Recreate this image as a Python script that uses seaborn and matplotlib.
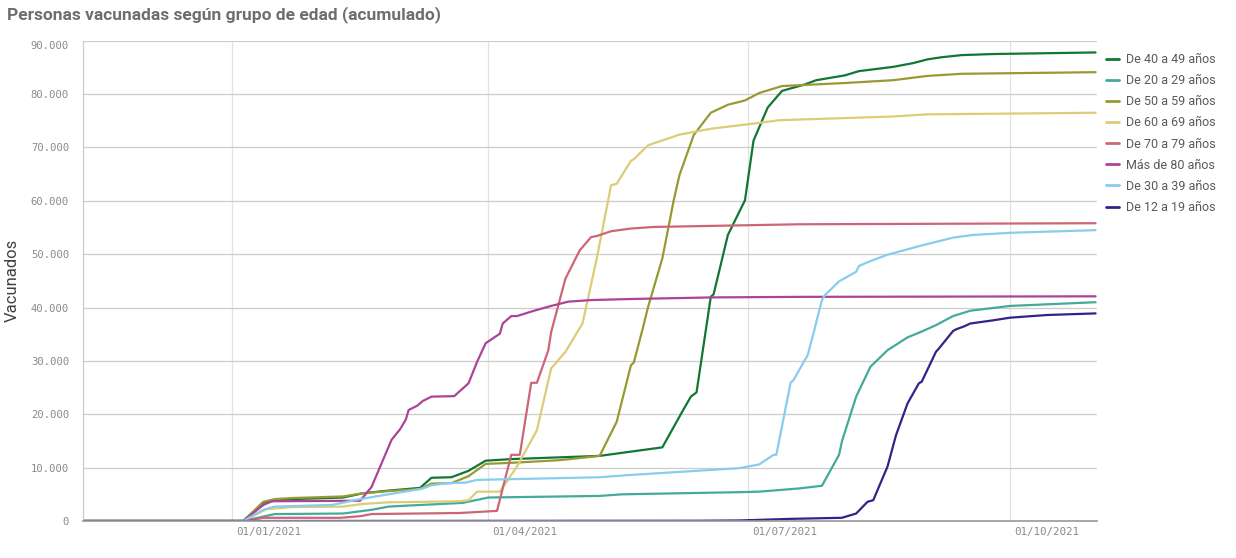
import pandas as pd
import matplotlib
matplotlib.use("Agg")
import matplotlib.pyplot as plt
import matplotlib.dates as mdates
from matplotlib.lines import Line2D
from matplotlib.ticker import FuncFormatter
from matplotlib.transforms import ScaledTranslation
import seaborn as sns

# -------------------------------
# Data
# -------------------------------
grupos = ["De 40 a 49 años", "De 20 a 29 años", "De 50 a 59 años", "De 60 a 69 años",
          "De 70 a 79 años", "Más de 80 años", "De 30 a 39 años", "De 12 a 19 años"]
colores = ["#117733", "#44AA99", "#999933", "#DDCC77",
           "#CC6677", "#AA4499", "#88CCEE", "#332288"]

fechas_40_49 = ["2020-11-09", "2021-01-05", "2021-01-12", "2021-01-16", "2021-01-22", "2021-02-09",
                "2021-02-16", "2021-02-25", "2021-03-08", "2021-03-12", "2021-03-19", "2021-03-25",
                "2021-03-31", "2021-04-09", "2021-05-10", "2021-06-01", "2021-06-08", "2021-06-11",
                "2021-06-13", "2021-06-18", "2021-06-19", "2021-06-24", "2021-06-30", "2021-07-03",
                "2021-07-08", "2021-07-13", "2021-07-21", "2021-07-25", "2021-08-04", "2021-08-09",
                "2021-08-21", "2021-08-28", "2021-09-02", "2021-09-07", "2021-09-14", "2021-09-25",
                "2021-10-31"]
vac_40_49 = [0, 0, 3400, 3800, 4100, 4400, 5200, 5700, 6200, 8100, 8200, 9400, 11300, 11600,
             12200, 13800, 20500, 23300, 24100, 42000, 42500, 53600, 60100, 71300, 77500, 80600,
             81800, 82600, 83500, 84300, 85100, 85800, 86500, 86900, 87300, 87500, 87800]

fechas_20_29 = ["2020-11-09", "2021-01-05", "2021-01-16", "2021-02-09", "2021-02-19", "2021-02-25",
                "2021-03-04", "2021-03-12", "2021-03-23", "2021-04-01", "2021-05-10", "2021-05-18",
                "2021-06-28", "2021-07-05", "2021-07-19", "2021-07-27", "2021-08-02", "2021-08-03",
                "2021-08-08", "2021-08-13", "2021-08-19", "2021-08-26", "2021-08-31", "2021-09-05",
                "2021-09-11", "2021-09-17", "2021-10-01", "2021-10-31"]
vac_20_29 = [0, 0, 1300, 1400, 2100, 2700, 2900, 3100, 3400, 4400, 4700, 5000, 5400, 5500, 6100,
             6600, 12400, 14900, 23300, 28900, 32000, 34400, 35500, 36700, 38400, 39400, 40300, 41000]

fechas_50_59 = ["2020-11-09", "2021-01-05", "2021-01-12", "2021-01-16", "2021-01-22", "2021-02-09",
                "2021-02-16", "2021-02-25", "2021-03-08", "2021-03-12", "2021-03-19", "2021-03-25",
                "2021-03-31", "2021-04-09", "2021-04-26", "2021-05-10", "2021-05-16", "2021-05-21",
                "2021-05-22", "2021-05-25", "2021-05-27", "2021-06-01", "2021-06-05", "2021-06-07",
                "2021-06-12", "2021-06-18", "2021-06-24", "2021-06-30", "2021-07-05", "2021-07-13",
                "2021-08-05", "2021-08-21", "2021-09-02", "2021-09-14", "2021-10-31"]
vac_50_59 = [0, 0, 3600, 4100, 4300, 4600, 5200, 5600, 6000, 7000, 7100, 8400, 10700, 10900,
             11400, 12200, 18600, 29200, 29700, 35800, 40100, 49200, 60100, 64800, 72300, 76500,
             78000, 78800, 80200, 81500, 82100, 82600, 83400, 83800, 84100]

fechas_60_69 = ["2020-11-09", "2021-01-05", "2021-01-13", "2021-01-22", "2021-02-09", "2021-02-16",
                "2021-02-25", "2021-03-22", "2021-03-25", "2021-03-28", "2021-04-05", "2021-04-11",
                "2021-04-18", "2021-04-23", "2021-04-28", "2021-05-04", "2021-05-09", "2021-05-13",
                "2021-05-14", "2021-05-16", "2021-05-21", "2021-05-22", "2021-05-27", "2021-06-07",
                "2021-06-18", "2021-07-05", "2021-07-12", "2021-08-21", "2021-09-02", "2021-10-31"]
vac_60_69 = [0, 0, 2200, 2600, 2700, 3200, 3500, 3700, 3900, 5500, 5500, 10200, 17000, 28600,
             31700, 37000, 49200, 60100, 62900, 63200, 67500, 67800, 70400, 72400, 73500, 74600,
             75100, 75800, 76200, 76500]

fechas_70_79 = ["2020-11-09", "2021-01-05", "2021-01-12", "2021-02-08", "2021-02-15", "2021-02-19",
                "2021-03-22", "2021-04-04", "2021-04-09", "2021-04-12", "2021-04-16", "2021-04-18",
                "2021-04-22", "2021-04-23", "2021-04-28", "2021-05-03", "2021-05-07", "2021-05-09",
                "2021-05-14", "2021-05-21", "2021-05-29", "2021-07-19", "2021-10-31"]
vac_70_79 = [0, 0, 600, 600, 900, 1300, 1500, 1900, 12400, 12400, 25900, 25900, 32000, 35400,
             45400, 50700, 53200, 53400, 54300, 54800, 55100, 55600, 55800]

fechas_80 = ["2020-11-09", "2021-01-05", "2021-01-12", "2021-01-15", "2021-02-15", "2021-02-19",
             "2021-02-26", "2021-03-01", "2021-03-03", "2021-03-04", "2021-03-07", "2021-03-09",
             "2021-03-12", "2021-03-20", "2021-03-25", "2021-03-28", "2021-03-31", "2021-04-05",
             "2021-04-06", "2021-04-09", "2021-04-11", "2021-04-17", "2021-04-23", "2021-04-29",
             "2021-05-07", "2021-05-21", "2021-06-19", "2021-07-19", "2021-10-31"]
vac_80 = [0, 0, 3000, 3700, 3800, 6400, 15200, 17200, 19000, 20800, 21600, 22500, 23300, 23400,
          25800, 29800, 33300, 35100, 37000, 38400, 38400, 39400, 40300, 41100, 41400, 41600,
          41900, 42000, 42100]

fechas_30_39 = ["2020-11-09", "2021-01-05", "2021-01-12", "2021-01-16", "2021-02-05", "2021-02-15",
                "2021-03-07", "2021-03-09", "2021-03-12", "2021-03-18", "2021-03-24", "2021-03-28",
                "2021-05-10", "2021-05-20", "2021-06-13", "2021-06-28", "2021-07-05", "2021-07-10",
                "2021-07-11", "2021-07-16", "2021-07-17", "2021-07-22", "2021-07-24", "2021-07-27",
                "2021-07-28", "2021-08-02", "2021-08-08", "2021-08-09", "2021-08-13", "2021-08-19",
                "2021-08-26", "2021-08-30", "2021-09-05", "2021-09-11", "2021-09-18", "2021-10-01",
                "2021-10-31"]
vac_30_39 = [0, 0, 2100, 2700, 3000, 4100, 5900, 6100, 6700, 7100, 7200, 7700, 8200, 8600, 9400,
             9900, 10600, 12400, 12400, 25900, 26400, 31100, 35100, 41400, 42300, 44900, 46700,
             47800, 48700, 49900, 50900, 51500, 52300, 53100, 53600, 54000, 54500]

fechas_12_19 = ["2020-11-09", "2021-01-05", "2021-06-14", "2021-06-28", "2021-07-16", "2021-08-03",
                "2021-08-08", "2021-08-12", "2021-08-14", "2021-08-19", "2021-08-22", "2021-08-26",
                "2021-08-30", "2021-08-31", "2021-09-05", "2021-09-06", "2021-09-11", "2021-09-12",
                "2021-09-15", "2021-09-17", "2021-09-25", "2021-10-01", "2021-10-14", "2021-10-31"]
vac_12_19 = [0, 0, 50, 100, 400, 600, 1400, 3600, 3900, 10200, 16100, 22000, 25800, 26100,
             31700, 32300, 35600, 35900, 36500, 37000, 37600, 38100, 38600, 38900]

series = [
    (grupos[0], fechas_40_49, vac_40_49),
    (grupos[1], fechas_20_29, vac_20_29),
    (grupos[2], fechas_50_59, vac_50_59),
    (grupos[3], fechas_60_69, vac_60_69),
    (grupos[4], fechas_70_79, vac_70_79),
    (grupos[5], fechas_80, vac_80),
    (grupos[6], fechas_30_39, vac_30_39),
    (grupos[7], fechas_12_19, vac_12_19),
]

df = pd.concat(
    [pd.DataFrame({"fecha": pd.to_datetime(f), "vacunados": v, "grupo": g}) for g, f, v in series],
    ignore_index=True,
)

paleta = dict(zip(grupos, colores))

# -------------------------------
# Plot
# -------------------------------
sns.set_style("white")
plt.rcParams["font.family"] = ["Roboto", "DejaVu Sans"]

fig = plt.figure(figsize=(12.36, 5.58), dpi=100)
ax = fig.add_axes([83 / 1236, 1 - 521 / 558, (1097 - 83) / 1236, (521 - 40.7) / 558])

sns.lineplot(data=df, x="fecha", y="vacunados", hue="grupo", hue_order=grupos,
             palette=paleta, linewidth=1.6, errorbar=None, legend=False, ax=ax)

ax.set_xlim(pd.Timestamp("2020-11-09 18:00"), pd.Timestamp("2021-10-31 12:00"))
ax.set_ylim(0, 90000)

# y axis
ax.set_yticks(range(0, 90001, 10000))
ax.yaxis.set_major_formatter(FuncFormatter(lambda v, p: f"{int(v):,}".replace(",", ".")))
ax.tick_params(axis="y", length=7, width=0.8, color="#cccccc", pad=3,
               labelsize=7.6, labelcolor="#8a8a8a")
for lbl in ax.get_yticklabels():
    lbl.set_family("DejaVu Sans Mono")
ax.get_yticklabels()[-1].set_va("top")

# x axis
ax.set_xticks(pd.to_datetime(["2021-01-01", "2021-04-01", "2021-07-01", "2021-10-01"]))
ax.xaxis.set_major_formatter(mdates.DateFormatter("%d/%m/%Y"))
ax.tick_params(axis="x", length=17, width=0.8, color="#e2e2e2", pad=-12.5,
               labelsize=7.8, labelcolor="#8a8a8a")
offset = ScaledTranslation(3 / 72, 0, fig.dpi_scale_trans)
for lbl in ax.get_xticklabels():
    lbl.set_family("DejaVu Sans Mono")
    lbl.set_ha("left")
    lbl.set_transform(lbl.get_transform() + offset)

ax.grid(axis="y", color="#cccccc", linewidth=0.9)
ax.grid(axis="x", color="#e2e2e2", linewidth=0.9)
ax.set_axisbelow(True)

for s in ["top", "right"]:
    ax.spines[s].set_visible(False)
ax.spines["left"].set_color("#cccccc")
ax.spines["left"].set_linewidth(0.9)
ax.spines["bottom"].set_color("#999999")
ax.spines["bottom"].set_linewidth(1.2)

ax.set_xlabel("")
ax.set_ylabel("")
fig.text(12 / 1236, 1 - 280 / 558, "Vacunados", rotation=90, ha="center", va="center",
         fontsize=12, color="#404040")

fig.text(7 / 1236, 1 - 15 / 558, "Personas vacunadas según grupo de edad (acumulado)",
         ha="left", va="center", fontsize=12.5, fontweight="bold", color="#6e6e6e")

# legend
handles = [Line2D([0], [0], color=c, linewidth=2) for c in colores]
fig.legend(handles, grupos, loc="upper left", bbox_to_anchor=(1106 / 1236, 1 - 53 / 558),
           frameon=False, fontsize=9, labelcolor="#595959", handlelength=1.0,
           handletextpad=0.6, labelspacing=0.65, borderpad=0, borderaxespad=0)

fig.savefig("out.png", dpi=100)
